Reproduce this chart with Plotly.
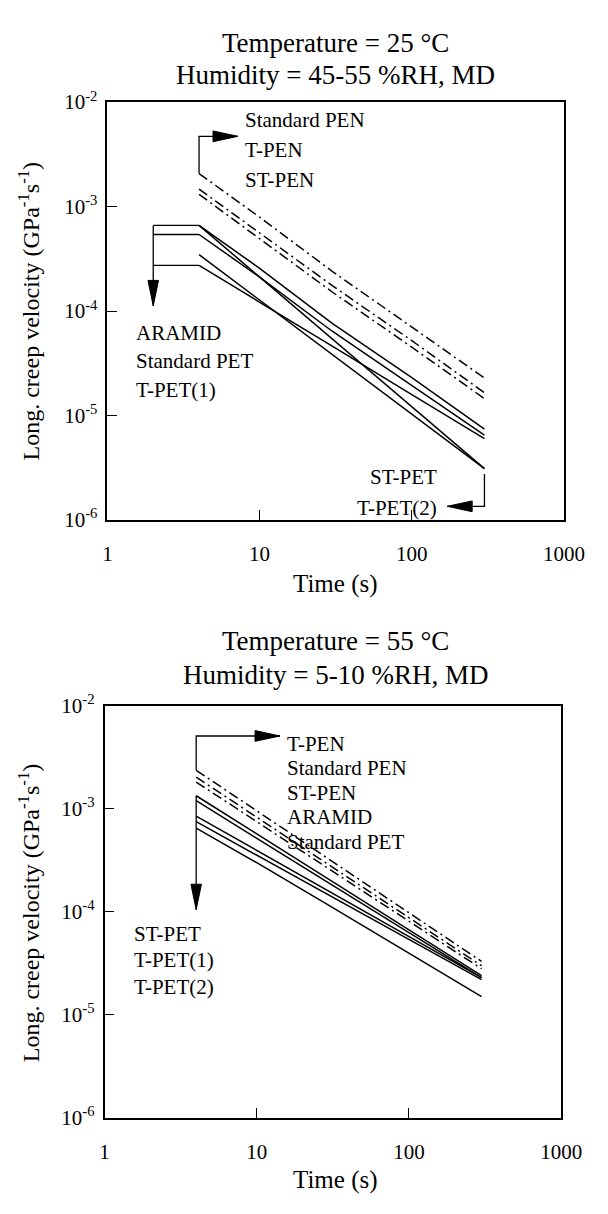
import plotly.graph_objects as go

# ---------------- data ----------------
time_s = [4, 10, 30, 100, 300]

# Panel A: 25 degC, 45-55 %RH
a_std_pen = [2.07e-3, 7.9e-4, 2.4e-4, 7.0e-5, 2.28e-5]
a_t_pen   = [1.47e-3, 5.6e-4, 1.75e-4, 5.2e-5, 1.65e-5]
a_st_pen  = [1.31e-3, 4.9e-4, 1.52e-4, 4.5e-5, 1.45e-5]
a_aramid  = [6.6e-4, 2.56e-4, 7.6e-5, 2.3e-5, 7.4e-6]
a_std_pet = [5.4e-4, 2.11e-4, 6.4e-5, 1.95e-5, 6.5e-6]
a_t_pet1  = [2.73e-4, 1.22e-4, 4.6e-5, 1.58e-5, 6.0e-6]
a_st_pet  = [6.6e-4, 2.12e-4, 5.4e-5, 1.21e-5, 3.1e-6]
a_t_pet2  = [3.46e-4, 1.27e-4, 3.8e-5, 1.03e-5, 3.1e-6]

# Panel B: 55 degC, 5-10 %RH
b_t_pen   = [2.37e-3, 9.6e-4, 3.22e-4, 9.8e-5, 3.3e-5]
b_std_pen = [2.03e-3, 8.3e-4, 2.83e-4, 8.7e-5, 3.0e-5]
b_st_pen  = [1.82e-3, 7.5e-4, 2.59e-4, 8.1e-5, 2.8e-5]
b_aramid  = [1.34e-3, 5.7e-4, 2.05e-4, 6.7e-5, 2.4e-5]
b_std_pet = [1.20e-3, 5.2e-4, 1.89e-4, 6.3e-5, 2.3e-5]
b_st_pet  = [8.5e-4, 3.95e-4, 1.57e-4, 5.75e-5, 2.3e-5]
b_t_pet1  = [7.5e-4, 3.55e-4, 1.44e-4, 5.4e-5, 2.2e-5]
b_t_pet2  = [6.5e-4, 3.0e-4, 1.15e-4, 4.0e-5, 1.5e-5]

x_tickvals = [1, 10, 100, 1000]
x_ticktext = ["1", "10", "100", "1000"]
y_tickvals = [1e-2, 1e-3, 1e-4, 1e-5, 1e-6]
y_ticktext = ["10<sup>-2</sup>", "10<sup>-3</sup>", "10<sup>-4</sup>",
              "10<sup>-5</sup>", "10<sup>-6</sup>"]

# ---------------- layout geometry (pixels) ----------------
W, H = 608, 1214
PA = dict(l=107, r=584, t=90, b=517)
PB = dict(l=104, r=581, t=707, b=1128)
FONT = "Liberation Serif, Times New Roman, Times, serif"

def px_per_dec(p):
    return (p["r"] - p["l"]) / 3.0, (p["b"] - p["t"]) / 4.0

fig = go.Figure()

def add_series(vals, xa, ya, dashed):
    fig.add_trace(go.Scatter(
        x=time_s, y=vals, mode="lines", xaxis=xa, yaxis=ya,
        line=dict(color="black", width=1.5,
                  dash="10px,4px,2px,4px" if dashed else "solid"),
        showlegend=False, hoverinfo="skip"))

for v in [a_std_pen, a_t_pen, a_st_pen]:
    add_series(v, "x", "y", True)
for v in [a_aramid, a_std_pet, a_t_pet1, a_st_pet, a_t_pet2]:
    add_series(v, "x", "y", False)
for v in [b_t_pen, b_std_pen, b_st_pen]:
    add_series(v, "x2", "y2", True)
for v in [b_aramid, b_std_pet, b_st_pet, b_t_pet1, b_t_pet2]:
    add_series(v, "x2", "y2", False)

def poly(xs, ys, xa, ya):
    fig.add_trace(go.Scatter(x=xs, y=ys, mode="lines", xaxis=xa, yaxis=ya,
                             line=dict(color="black", width=1.3),
                             showlegend=False, hoverinfo="skip"))

def head(tip_t, tip_v, direction, panel, xa, ya, L=26, hw=5.5):
    pxx, pxy = px_per_dec(panel)
    if direction in ("right", "left"):
        d = L / pxx * (1 if direction == "right" else -1)
        bt = tip_t / 10 ** d
        w = hw / pxy
        xs = [tip_t, bt, bt, tip_t]
        ys = [tip_v, tip_v * 10 ** w, tip_v / 10 ** w, tip_v]
    else:
        d = L / pxy * (1 if direction == "down" else -1)
        bv = tip_v * 10 ** d
        w = hw / pxx
        xs = [tip_t, tip_t * 10 ** w, tip_t / 10 ** w, tip_t]
        ys = [tip_v, bv, bv, tip_v]
    fig.add_trace(go.Scatter(x=xs, y=ys, mode="lines", fill="toself",
                             fillcolor="black", xaxis=xa, yaxis=ya,
                             line=dict(color="black", width=1),
                             showlegend=False, hoverinfo="skip"))

# Panel A brackets
pen_top_a = 4.7e-3
poly([time_s[0], time_s[0], 7.2], [a_std_pen[0], pen_top_a, pen_top_a], "x", "y")
head(7.2, pen_top_a, "right", PA, "x", "y")
for v in [a_aramid[0], a_std_pet[0], a_t_pet1[0]]:
    poly([2.0, time_s[0]], [v, v], "x", "y")
poly([2.0, 2.0], [a_aramid[0], 1.12e-4], "x", "y")
head(2.0, 1.12e-4, "down", PA, "x", "y")
poly([time_s[-1], time_s[-1], 171], [2.75e-6, 1.35e-6, 1.35e-6], "x", "y")
head(171, 1.35e-6, "left", PA, "x", "y")

# Panel B brackets
pen_top_b = 5.1e-3
poly([time_s[0], time_s[0], 14.2], [b_t_pen[0], pen_top_b, pen_top_b], "x2", "y2")
head(14.2, pen_top_b, "right", PB, "x2", "y2")
poly([time_s[0], time_s[0]], [b_aramid[0], 1.05e-4], "x2", "y2")
head(time_s[0], 1.05e-4, "down", PB, "x2", "y2")

# ---------------- axes ----------------
def axis_common():
    return dict(type="log", showline=True, mirror=True, linecolor="black",
                linewidth=1.5, ticks="inside", ticklen=10, tickwidth=1.3,
                tickcolor="black", showgrid=False, zeroline=False,
                tickfont=dict(family=FONT, size=21, color="black"))

def xdom(p):
    return [p["l"] / W, p["r"] / W]

def ydom(p):
    return [1 - p["b"] / H, 1 - p["t"] / H]

xa = axis_common(); xa.update(domain=xdom(PA), range=[0, 3], tickvals=x_tickvals,
                              ticktext=x_ticktext, anchor="y", ticklabelstandoff=14)
ya = axis_common(); ya.update(domain=ydom(PA), range=[-6, -2], tickvals=y_tickvals,
                              ticktext=y_ticktext, anchor="x", ticklabelstandoff=4)
xb = axis_common(); xb.update(domain=xdom(PB), range=[0, 3], tickvals=x_tickvals,
                              ticktext=x_ticktext, anchor="y2", ticklabelstandoff=14)
yb = axis_common(); yb.update(domain=ydom(PB), range=[-6, -2], tickvals=y_tickvals,
                              ticktext=y_ticktext, anchor="x2", ticklabelstandoff=4)

annotations = []

def txt(x, y, s, size=21, xanchor="left", angle=0):
    annotations.append(dict(x=x / W, y=1 - y / H, xref="paper", yref="paper",
                            text=s, showarrow=False, xanchor=xanchor,
                            yanchor="middle", textangle=angle,
                            font=dict(family=FONT, size=size, color="black")))

# titles
txt(345, 30, "Temperature = 25 °C", 27, "center")
txt(345, 62, "Humidity = 45-55 %RH, MD", 27, "center")
txt(345, 641, "Temperature = 55 °C", 27, "center")
txt(345, 675, "Humidity = 5-10 %RH, MD", 27, "center")
# axis titles
ytitle = "Long. creep velocity (GPa<sup>-1</sup>s<sup>-1</sup>)"
txt(25, 303, ytitle, 24, "center", -90)
txt(25, 918, ytitle, 24, "center", -90)
txt(345, 582, "Time (s)", 25, "center")
txt(345, 1192, "Time (s)", 25, "center")

# panel A labels
txt(249, 108, "Standard PEN")
txt(249, 139, "T-PEN")
txt(249, 170, "ST-PEN")
txt(135, 326, "ARAMID")
txt(135, 355, "Standard PET")
txt(135, 384, "T-PET(1)")
txt(453, 473, "ST-PET", xanchor="right")
txt(453, 505, "T-PET(2)", xanchor="right")

# panel B labels
txt(293, 746, "T-PEN")
txt(293, 771, "Standard PEN")
txt(293, 796, "ST-PEN")
txt(293, 821, "ARAMID")
txt(293, 846, "Standard PET")
txt(133, 940, "ST-PET")
txt(133, 967, "T-PET(1)")
txt(133, 994, "T-PET(2)")

fig.update_layout(
    width=W, height=H, autosize=False,
    margin=dict(l=0, r=0, t=0, b=0),
    paper_bgcolor="white", plot_bgcolor="white",
    xaxis=xa, yaxis=ya, xaxis2=xb, yaxis2=yb,
    annotations=annotations, showlegend=False,
)

fig.write_html("out.html")
